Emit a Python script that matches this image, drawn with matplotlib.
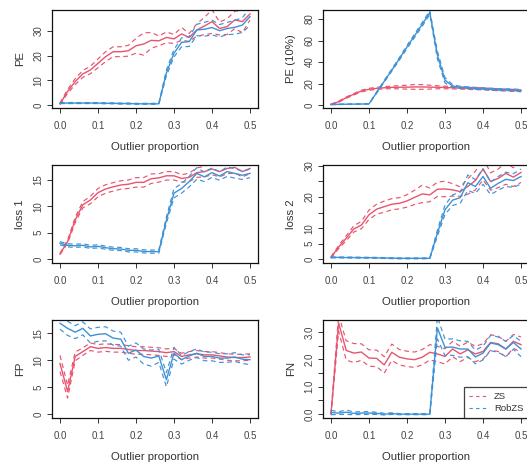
import numpy as np
import matplotlib
matplotlib.use("Agg")
import matplotlib.pyplot as plt
from matplotlib.lines import Line2D

plt.rcParams['font.family'] = ['Liberation Sans', 'DejaVu Sans']

x = [0.00, 0.02, 0.04, 0.06, 0.08, 0.10, 0.12, 0.14, 0.16, 0.18, 0.20, 0.22, 0.24,
     0.26, 0.28, 0.30, 0.32, 0.34, 0.36, 0.38, 0.40, 0.42, 0.44, 0.46, 0.48, 0.50]

series_names = ["ZS", "RobZS"]

# ---- PE ----
pe_zs = [0.5, 5.5, 9.5, 12.6, 14.2, 16.9, 19.6, 21.6, 21.6, 22.0, 24.0, 24.7, 26.2,
         26.0, 27.4, 26.8, 28.8, 27.4, 30.4, 32.0, 33.8, 31.0, 31.8, 34.5, 33.8, 36.9]
pe_zs_hw = [0.3, 0.8, 1.2, 1.4, 1.5, 1.8, 2.0, 2.0, 2.0, 2.2, 3.0, 4.5, 3.2,
            2.0, 2.2, 1.8, 2.6, 1.6, 2.5, 3.5, 4.8, 2.6, 3.2, 3.5, 4.5, 2.5]
pe_rob = [0.8, 0.8, 0.8, 0.8, 0.8, 0.8, 0.7, 0.7, 0.6, 0.6, 0.5, 0.5, 0.5,
          0.5, 13.0, 21.0, 25.4, 25.7, 30.4, 30.7, 31.4, 30.1, 31.0, 31.5, 32.4, 35.8]
pe_rob_hw = [0.2, 0.2, 0.2, 0.2, 0.2, 0.2, 0.2, 0.2, 0.2, 0.2, 0.2, 0.2, 0.2,
             0.2, 1.2, 1.5, 1.8, 2.0, 2.3, 2.8, 3.0, 2.5, 2.5, 2.8, 3.0, 3.5]

# ---- PE (10%) ----
pe10_zs = [0.5, 3.0, 6.8, 10.0, 13.0, 14.6, 15.5, 16.0, 16.4, 16.5, 16.6, 16.8, 16.8,
           16.6, 16.5, 16.3, 16.0, 15.8, 15.5, 15.2, 15.0, 14.6, 14.2, 14.0, 13.6, 13.2]
pe10_zs_hw = [0.3, 0.5, 0.6, 0.7, 0.8, 0.9, 1.0, 1.0, 1.2, 1.5, 1.8, 2.2, 2.2,
              1.8, 1.4, 1.2, 1.0, 1.0, 1.0, 1.0, 0.9, 0.9, 0.9, 0.9, 0.9, 0.9]
pe10_rob = [0.5, 0.6, 0.7, 0.8, 0.9, 1.0, 11.5, 22.0, 32.5, 43.0, 54.0, 64.5, 75.0,
            86.0, 46.5, 23.0, 17.7, 16.4, 16.0, 15.5, 15.2, 14.8, 14.3, 14.2, 14.0, 13.6]
pe10_rob_hw = [0.2, 0.2, 0.2, 0.2, 0.2, 0.2, 0.6, 0.8, 1.0, 1.2, 1.4, 1.6, 1.8,
               1.6, 3.5, 2.5, 1.2, 1.0, 0.9, 0.9, 0.9, 0.9, 0.9, 0.9, 0.9, 0.9]

# ---- loss 1 ----
l1_zs = [0.95, 3.3, 7.4, 10.3, 11.2, 12.6, 13.3, 13.7, 14.05, 14.2, 14.55, 14.55, 15.25,
         15.4, 15.8, 15.8, 15.3, 15.5, 16.4, 16.6, 17.1, 16.6, 17.2, 17.4, 16.6, 17.2]
l1_zs_hw = [0.1, 0.3, 0.5, 0.6, 0.7, 0.8, 0.8, 0.8, 0.8, 0.8, 0.9, 0.9, 0.9,
            0.8, 0.8, 0.8, 0.7, 0.8, 0.9, 1.0, 1.1, 1.0, 1.0, 1.1, 1.0, 1.0]
l1_rob = [3.0, 2.6, 2.5, 2.6, 2.3, 2.4, 2.15, 1.95, 1.9, 1.65, 1.65, 1.45, 1.4,
          1.4, 7.4, 12.5, 13.4, 14.7, 16.25, 15.6, 16.4, 15.75, 16.6, 16.25, 15.9, 16.25]
l1_rob_hw = [0.3, 0.3, 0.3, 0.3, 0.3, 0.3, 0.3, 0.3, 0.3, 0.3, 0.3, 0.3, 0.3,
             0.3, 0.6, 0.9, 0.9, 1.0, 1.1, 0.9, 0.9, 0.8, 0.9, 0.9, 0.8, 0.8]

# ---- loss 2 ----
l2_zs = [0.6, 3.9, 6.75, 9.75, 11.0, 14.3, 16.1, 16.9, 17.7, 18.0, 18.75, 19.9, 21.0,
         20.7, 22.5, 22.6, 22.3, 21.75, 23.4, 25.3, 29.0, 25.0, 26.0, 27.6, 26.4, 27.9]
l2_zs_hw = [0.2, 0.5, 0.8, 1.0, 1.2, 1.5, 1.6, 1.8, 1.8, 1.8, 2.0, 2.3, 2.8,
            2.2, 2.3, 2.5, 2.0, 1.5, 2.5, 3.0, 3.5, 2.8, 3.0, 3.5, 3.0, 3.2]
l2_rob = [0.6, 0.6, 0.55, 0.55, 0.5, 0.5, 0.45, 0.4, 0.35, 0.3, 0.3, 0.3, 0.3,
          0.3, 8.4, 15.9, 19.0, 19.8, 24.6, 23.4, 26.6, 22.8, 24.4, 25.7, 25.3, 26.6]
l2_rob_hw = [0.15, 0.15, 0.15, 0.15, 0.15, 0.15, 0.15, 0.15, 0.15, 0.15, 0.15, 0.15, 0.15,
             0.15, 1.0, 1.5, 1.7, 1.8, 2.5, 2.2, 2.5, 2.0, 2.2, 2.3, 2.2, 2.4]

# ---- FP ----
fp_zs = [9.4, 4.2, 10.7, 11.6, 12.5, 12.2, 12.35, 12.2, 12.2, 12.0, 11.8, 11.8, 11.7,
         11.6, 11.4, 11.6, 10.7, 11.0, 11.2, 11.0, 11.0, 10.8, 10.6, 10.5, 10.5, 10.6]
fp_zs_hw = [1.5, 1.2, 0.8, 0.7, 0.7, 0.7, 0.7, 0.7, 0.7, 0.7, 0.7, 0.7, 0.7,
            0.7, 0.7, 0.6, 0.6, 0.6, 0.6, 0.6, 0.6, 0.6, 0.6, 0.6, 0.6, 0.6]
fp_rob = [16.85, 15.9, 15.2, 15.9, 14.5, 14.8, 14.9, 14.1, 13.9, 11.3, 11.9, 10.7, 10.4,
          10.8, 6.4, 11.3, 10.1, 10.8, 11.3, 10.7, 10.7, 10.4, 10.4, 10.6, 10.2, 10.1]
fp_rob_hw = [1.1, 1.3, 1.2, 1.2, 1.3, 1.3, 1.3, 1.3, 1.3, 1.3, 1.3, 1.4, 1.5,
             1.2, 1.3, 1.1, 0.8, 0.8, 0.8, 0.8, 0.8, 0.8, 0.8, 0.8, 0.8, 0.9]

# ---- FN ----
fn_zs = [0.0, 3.33, 2.33, 2.23, 2.27, 2.05, 2.04, 1.8, 2.26, 2.08, 2.02, 1.99, 2.08,
         2.26, 2.2, 2.11, 2.38, 2.2, 2.35, 2.2, 2.29, 2.62, 2.57, 2.38, 2.66, 2.54]
fn_zs_hw = [0.02, 0.3, 0.35, 0.35, 0.3, 0.3, 0.3, 0.3, 0.3, 0.28, 0.28, 0.28, 0.28,
            0.28, 0.28, 0.28, 0.28, 0.28, 0.28, 0.28, 0.28, 0.28, 0.28, 0.28, 0.25, 0.28]
fn_rob = [0.06, 0.04, 0.07, 0.03, 0.04, 0.04, 0.03, 0.0, 0.02, 0.0, 0.0, 0.0, 0.0,
          0.0, 3.15, 2.44, 2.45, 2.38, 2.38, 2.09, 2.23, 2.6, 2.54, 2.38, 2.62, 2.38]
fn_rob_hw = [0.08, 0.05, 0.08, 0.05, 0.05, 0.05, 0.04, 0.03, 0.03, 0.02, 0.02, 0.02, 0.02,
             0.02, 0.4, 0.3, 0.3, 0.3, 0.28, 0.25, 0.25, 0.28, 0.28, 0.28, 0.25, 0.28]

x_ticks = [0.0, 0.1, 0.2, 0.3, 0.4, 0.5]
x_ticklabels = ["0.0", "0.1", "0.2", "0.3", "0.4", "0.5"]

panels = [
    dict(ylabel="PE", data=[(pe_zs, pe_zs_hw), (pe_rob, pe_rob_hw)],
         ylim=(-1.2, 38.5), yticks=[0, 10, 20, 30], ylabels=["0", "10", "20", "30"]),
    dict(ylabel="PE (10%)", data=[(pe10_zs, pe10_zs_hw), (pe10_rob, pe10_rob_hw)],
         ylim=(-2.8, 88.4), yticks=[0, 20, 40, 60, 80], ylabels=["0", "20", "40", "60", "80"]),
    dict(ylabel="loss 1", data=[(l1_zs, l1_zs_hw), (l1_rob, l1_rob_hw)],
         ylim=(-0.76, 17.85), yticks=[0, 5, 10, 15], ylabels=["0", "5", "10", "15"]),
    dict(ylabel="loss 2", data=[(l2_zs, l2_zs_hw), (l2_rob, l2_rob_hw)],
         ylim=(-1.2, 30.3), yticks=[0, 5, 10, 15, 20, 25, 30],
         ylabels=["0", "5", "10", "", "20", "", "30"]),
    dict(ylabel="FP", data=[(fp_zs, fp_zs_hw), (fp_rob, fp_rob_hw)],
         ylim=(-0.69, 17.45), yticks=[0, 5, 10, 15], ylabels=["0", "5", "10", "15"]),
    dict(ylabel="FN", data=[(fn_zs, fn_zs_hw), (fn_rob, fn_rob_hw)],
         ylim=(-0.14, 3.44), yticks=[0, 0.5, 1.0, 1.5, 2.0, 2.5, 3.0],
         ylabels=["0.0", "", "1.0", "", "2.0", "", "3.0"]),
]

colors = ["#E8546E", "#3D92D6"]
W, H = 527, 463
fig = plt.figure(figsize=(W / 100, H / 100), dpi=100)

col_left = [52.4, 323.4]
row_top = [10, 165, 320]
aw, ah = 205.2, 98

dash = (0, (4, 3))
for i, p in enumerate(panels):
    r, c = divmod(i, 2)
    ax = fig.add_axes([col_left[c] / W, 1 - (row_top[r] + ah) / H, aw / W, ah / H])
    for k, (m, hw) in enumerate(p["data"]):
        m = np.array(m)
        hw = np.array(hw)
        ax.plot(x, m + hw, color=colors[k], lw=0.85, ls=dash)
        ax.plot(x, m - hw, color=colors[k], lw=0.85, ls=dash)
        ax.plot(x, m, color=colors[k], lw=1.0)
    ax.set_xlim(-0.02, 0.52)
    ax.set_ylim(*p["ylim"])
    ax.set_xticks(x_ticks)
    ax.set_xticklabels(x_ticklabels)
    ax.set_yticks(p["yticks"])
    ax.set_yticklabels(p["ylabels"], rotation=90, va="center")
    ax.tick_params(axis="both", direction="out", length=3.5, width=0.7,
                   labelsize=7, labelcolor="#444444", color="#333333")
    ax.tick_params(axis="x", pad=6)
    ax.tick_params(axis="y", pad=3)
    for s in ax.spines.values():
        s.set_linewidth(0.9)
        s.set_color("#111111")
    ax.set_xlabel("Outlier proportion", fontsize=8.2, color="#333333", labelpad=8)
    ax.set_ylabel(p["ylabel"], fontsize=8.2, color="#333333", labelpad=6)
    if i == 5:
        handles = [Line2D([0], [0], color=colors[0], lw=0.8, ls=(0, (3, 3))),
                   Line2D([0], [0], color=colors[1], lw=0.8, ls=(0, (3, 3)))]
        leg = ax.legend(handles, series_names, loc="lower right", fontsize=6.8,
                        frameon=True, fancybox=False, borderaxespad=0,
                        handlelength=1.8, handletextpad=0.8, borderpad=0.55,
                        labelspacing=0.25)
        leg.get_frame().set_edgecolor("#111111")
        leg.get_frame().set_linewidth(0.9)
        for t in leg.get_texts():
            t.set_color("#333333")

fig.savefig("out.png", dpi=100)
